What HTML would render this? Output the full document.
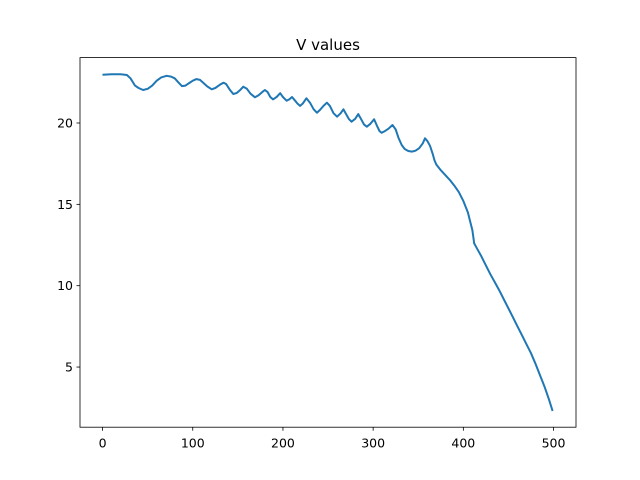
<!DOCTYPE html>
<html><head><meta charset="utf-8"><style>
body{margin:0;background:#fff;}
svg{display:block;font-family:"DejaVu Sans","Liberation Sans",sans-serif;}
</style></head><body>
<svg id="chart" width="640" height="480">
<rect width="640" height="480" fill="#fff"/>
<text x="328" y="50" text-anchor="middle" font-size="15">V values</text>
<g id="plot"></g>
<rect x="80" y="57.6" width="496" height="369.6" fill="none" stroke="#000" stroke-width="0.8"/>
<g id="xt"></g><g id="yt"></g>
</svg>
<script>
const xs=[0,10,20,27,31,36,40,45,50,55,60,65,71,76,80,84,88,92,96,100,104,108,112,116,121,125,130,134,137,141,145,149,153,156,160,164,169,173,177,180,183,186,189,193,197,200,204,207,210,213,216,219,222,226,230,234,237.6,241,245,248.7,252,256,260,264,267,270,273,276,280,283.5,287,290,293,297,301,304,307,309.5,313,317,321.5,325,328,331.7,335,339,343,347,351,355,357.5,360,363,366,368,370,375,380,385,390,395,400,405,410,412,415,420,425,430,435,440,445,450,455,460,465,470,475,480,485,490,495,499];
const ys=[22.96,23.0,23.0,22.95,22.75,22.3,22.15,22.03,22.1,22.3,22.6,22.8,22.9,22.85,22.75,22.5,22.27,22.3,22.45,22.6,22.7,22.65,22.45,22.25,22.07,22.15,22.35,22.48,22.4,22.05,21.78,21.85,22.05,22.23,22.1,21.8,21.58,21.7,21.9,22.03,21.9,21.6,21.45,21.6,21.83,21.6,21.37,21.45,21.6,21.4,21.2,21.05,21.2,21.52,21.25,20.85,20.63,20.8,21.05,21.25,21.05,20.6,20.39,20.6,20.84,20.55,20.25,20.08,20.25,20.55,20.2,19.9,19.77,19.95,20.23,19.85,19.5,19.4,19.5,19.65,19.88,19.6,19.1,18.65,18.4,18.28,18.24,18.3,18.45,18.75,19.06,18.9,18.6,18.1,17.7,17.45,17.1,16.8,16.5,16.15,15.75,15.2,14.5,13.4,12.6,12.3,11.8,11.25,10.7,10.2,9.7,9.15,8.6,8.05,7.5,6.95,6.4,5.85,5.2,4.5,3.8,3.0,2.3];
const xTicks=[0,100,200,300,400,500];
const yTicks=[5,10,15,20];
const X=v=>102.55+v*0.902, Y=v=>448.4-v*16.27;
const ns="http://www.w3.org/2000/svg";
const p=document.createElementNS(ns,'path');


p.setAttribute('d',xs.map((x,i)=>(i?'L':'M')+X(x).toFixed(1)+' '+Y(ys[i]).toFixed(1)).join(''));
p.setAttribute('fill','none');p.setAttribute('stroke','#1f77b4');p.setAttribute('stroke-width','2');p.setAttribute('stroke-linejoin','round');
document.getElementById('plot').appendChild(p);
const xt=document.getElementById('xt');
xTicks.forEach(t=>{const g=document.createElementNS(ns,'g');


g.innerHTML=`<line x1="${X(t)}" x2="${X(t)}" y1="427.2" y2="430.7" stroke="#000" stroke-width="0.8"/><text x="${X(t)}" y="447.5" text-anchor="middle" font-size="12.5">${t}</text>`;
xt.appendChild(g);});
const yt=document.getElementById('yt');
yTicks.forEach(t=>{const g=document.createElementNS(ns,'g');


g.innerHTML=`<line x1="76.5" x2="80" y1="${Y(t)}" y2="${Y(t)}" stroke="#000" stroke-width="0.8"/><text x="73" y="${Y(t)+4.5}" text-anchor="end" font-size="12.5">${t}</text>`;
yt.appendChild(g);});
</script>
</body></html>
